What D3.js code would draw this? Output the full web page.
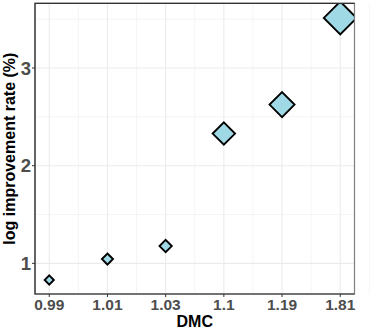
<!DOCTYPE html>
<meta charset="utf-8">
<style>
body { margin: 0; background: #fff; }
text { font-family: "Liberation Sans", Arial, sans-serif; font-weight: bold; }
.tick-x { font-size: 15.5px; fill: #4d4d4d; text-anchor: middle; }
.tick-y { font-size: 18.5px; fill: #4d4d4d; text-anchor: end; }
.title { font-size: 16px; fill: #000; text-anchor: middle; }
</style>
<svg width="382" height="334"></svg>
<script src="https://d3js.org/d3.v7.min.js"></script>
<script>

// DMC categories and log improvement rate
var dmc = ["0.99", "1.01", "1.03", "1.1", "1.19", "1.81"];
var rate = [0.829, 1.044, 1.177, 2.329, 2.626, 3.513];
var yTicks = [1, 2, 3];

var svg = d3.select("svg");

var pLeft = 35, pRight = 354.5, pTop = 3.3, pBottom = 294;

var x = d3.scalePoint()
    .domain(dmc)
    .range([pLeft, pRight])
    .padding(0.245);

var y = d3.scaleLinear()
    .domain([0.686, 3.663])
    .range([pBottom, pTop]);

// point size follows the rate value
var size = d3.scaleLinear()
    .domain(d3.extent(rate))
    .range([4.6, 16.4]);

svg.append("clipPath").attr("id", "panel")
  .append("rect")
    .attr("x", pLeft).attr("y", pTop)
    .attr("width", pRight - pLeft).attr("height", pBottom - pTop);

var grid = svg.append("g");

// minor grid
var step = x.step();
var xMinor = dmc.slice(1).map(function(d) { return x(d) - step / 2; })
    .concat([x(dmc[dmc.length - 1]) + step / 2]);
grid.selectAll(".xminor")
    .data(xMinor)
  .enter().append("line")
    .attr("x1", function(d) { return d; }).attr("x2", function(d) { return d; })
    .attr("y1", pTop).attr("y2", pBottom)
    .attr("stroke", "#f2f2f2").attr("stroke-width", 0.8);

grid.selectAll(".yminor")
    .data([1.5, 2.5, 3.5])
  .enter().append("line")
    .attr("x1", pLeft).attr("x2", pRight)
    .attr("y1", function(d) { return y(d); }).attr("y2", function(d) { return y(d); })
    .attr("stroke", "#f2f2f2").attr("stroke-width", 0.8);

// major grid
grid.selectAll(".xmajor")
    .data(dmc)
  .enter().append("line")
    .attr("x1", function(d) { return x(d); }).attr("x2", function(d) { return x(d); })
    .attr("y1", pTop).attr("y2", pBottom)
    .attr("stroke", "#ebebeb").attr("stroke-width", 1.1);

grid.selectAll(".ymajor")
    .data(yTicks)
  .enter().append("line")
    .attr("x1", pLeft).attr("x2", pRight)
    .attr("y1", function(d) { return y(d); }).attr("y2", function(d) { return y(d); })
    .attr("stroke", "#ebebeb").attr("stroke-width", 1.1);

// points
var pts = d3.zip(dmc, rate);
svg.append("g")
    .attr("clip-path", "url(#panel)")
  .selectAll("path")
    .data(pts)
  .enter().append("path")
    .attr("transform", function(d) { return "translate(" + x(d[0]) + "," + y(d[1]) + ")"; })
    .attr("d", function(d) {
      var r = size(d[1]);
      return "M0," + (-r) + "L" + r + ",0L0," + r + "L" + (-r) + ",0Z";
    })
    .attr("fill", "#a0d9e6")
    .attr("stroke", "#000")
    .attr("stroke-width", 1.9)
    .attr("stroke-linejoin", "miter");

// panel border
svg.append("rect")
    .attr("x", pLeft).attr("y", pTop)
    .attr("width", pRight - pLeft).attr("height", pBottom - pTop)
    .attr("fill", "none")
    .attr("stroke", "#7f7f7f")
    .attr("stroke-width", 1.2);

svg.append("path")
    .attr("d", "M" + pRight + "," + pTop + "H" + pLeft + "V" + pBottom + "H" + pRight)
    .attr("fill", "none")
    .attr("stroke", "#333")
    .attr("stroke-width", 1.2);

// ticks
svg.selectAll(".xt")
    .data(dmc)
  .enter().append("line")
    .attr("x1", function(d) { return x(d); }).attr("x2", function(d) { return x(d); })
    .attr("y1", pBottom).attr("y2", pBottom + 3)
    .attr("stroke", "#333").attr("stroke-width", 1);

svg.selectAll(".yt")
    .data(yTicks)
  .enter().append("line")
    .attr("x1", pLeft - 3).attr("x2", pLeft)
    .attr("y1", function(d) { return y(d); }).attr("y2", function(d) { return y(d); })
    .attr("stroke", "#333").attr("stroke-width", 1);

svg.selectAll(".tick-x")
    .data(dmc)
  .enter().append("text")
    .attr("class", "tick-x")
    .attr("x", function(d) { return x(d); })
    .attr("y", 310)
    .text(function(d) { return d; });

svg.selectAll(".tick-y")
    .data(yTicks)
  .enter().append("text")
    .attr("class", "tick-y")
    .attr("x", 31)
    .attr("y", function(d) { return y(d); })
    .attr("dy", "0.36em")
    .text(function(d) { return d; });

svg.append("text")
    .attr("class", "title")
    .attr("x", (pLeft + pRight) / 2)
    .attr("y", 327)
    .text("DMC");

svg.append("text")
    .attr("class", "title")
    .attr("transform", "translate(15," + ((pTop + pBottom) / 2) + ") rotate(-90)")
    .text("log improvement rate (%)");

</script>
